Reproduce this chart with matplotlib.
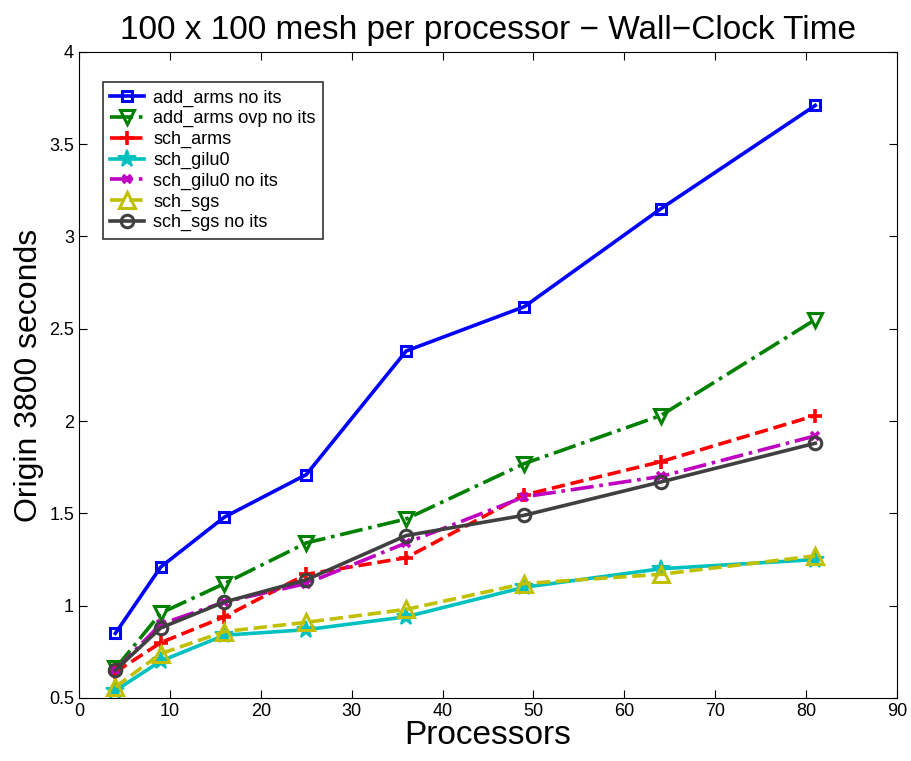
import matplotlib
matplotlib.use("Agg")
import matplotlib.pyplot as plt

plt.rcParams["font.family"] = ["Liberation Sans", "DejaVu Sans"]

# processor counts (square meshes of processors)
procs = [4, 9, 16, 25, 36, 49, 64, 81]

add_arms_no_its = [0.85, 1.21, 1.48, 1.71, 2.38, 2.62, 3.15, 3.71]
add_arms_ovp_no_its = [0.66, 0.96, 1.12, 1.34, 1.47, 1.77, 2.03, 2.55]
sch_arms = [0.64, 0.80, 0.94, 1.17, 1.26, 1.60, 1.78, 2.03]
sch_gilu0 = [0.54, 0.70, 0.84, 0.87, 0.94, 1.10, 1.20, 1.25]
sch_gilu0_no_its = [0.65, 0.90, 1.02, 1.12, 1.34, 1.59, 1.70, 1.92]
sch_sgs = [0.56, 0.74, 0.86, 0.91, 0.98, 1.12, 1.17, 1.27]
sch_sgs_no_its = [0.65, 0.88, 1.02, 1.14, 1.38, 1.49, 1.67, 1.88]

fig = plt.figure(figsize=(9.11, 7.61), dpi=100)
ax = fig.add_axes([0.0867, 0.0828, 0.898, 0.849])

ax.plot(procs, add_arms_no_its, "-", color="#0000ff", lw=2.6, marker="s",
        ms=7, mfc="none", mew=2.2, label="add_arms no its")
ax.plot(procs, add_arms_ovp_no_its, "-.", color="#008000", lw=2.6, marker="v",
        ms=10, mfc="none", mew=2.2, label="add_arms ovp no its")
ax.plot(procs, sch_arms, "--", color="#ff0000", lw=2.6, marker="+",
        ms=10, mew=2.6, label="sch_arms")
ax.plot(procs, sch_gilu0, "-", color="#00c0c0", lw=2.6, marker="*",
        ms=13, mew=1.5, label="sch_gilu0")
ax.plot(procs, sch_gilu0_no_its, "-.", color="#c000c0", lw=2.6, marker="x",
        ms=6, mew=2.6, label="sch_gilu0 no its")
ax.plot(procs, sch_sgs, "--", color="#c0c000", lw=2.6, marker="^",
        ms=11, mfc="none", mew=2.2, label="sch_sgs")
ax.plot(procs, sch_sgs_no_its, "-", color="#404040", lw=2.6, marker="o",
        ms=9, mfc="none", mew=2.2, label="sch_sgs no its")

ax.set_xlim(0, 90)
ax.set_ylim(0.5, 4)
ax.set_xticks(range(0, 91, 10))
ax.set_yticks([0.5, 1, 1.5, 2, 2.5, 3, 3.5, 4])
ax.set_yticklabels(["0.5", "1", "1.5", "2", "2.5", "3", "3.5", "4"])
ax.tick_params(direction="in", top=True, right=True, labelsize=13, length=6)

ax.set_title("100 x 100 mesh per processor \u2212 Wall\u2212Clock Time", fontsize=24, pad=9)
ax.set_xlabel("Processors", fontsize=24, labelpad=0)
ax.set_ylabel("Origin 3800 seconds", fontsize=23, labelpad=4)

leg = ax.legend(loc="upper left", bbox_to_anchor=(0.029, 0.953), fontsize=13,
                frameon=True, fancybox=False, edgecolor="black",
                handlelength=1.9, handletextpad=0.5, labelspacing=0.2,
                borderpad=0.4, borderaxespad=0)
leg.get_frame().set_linewidth(1.2)

fig.savefig("out.png", dpi=100)
